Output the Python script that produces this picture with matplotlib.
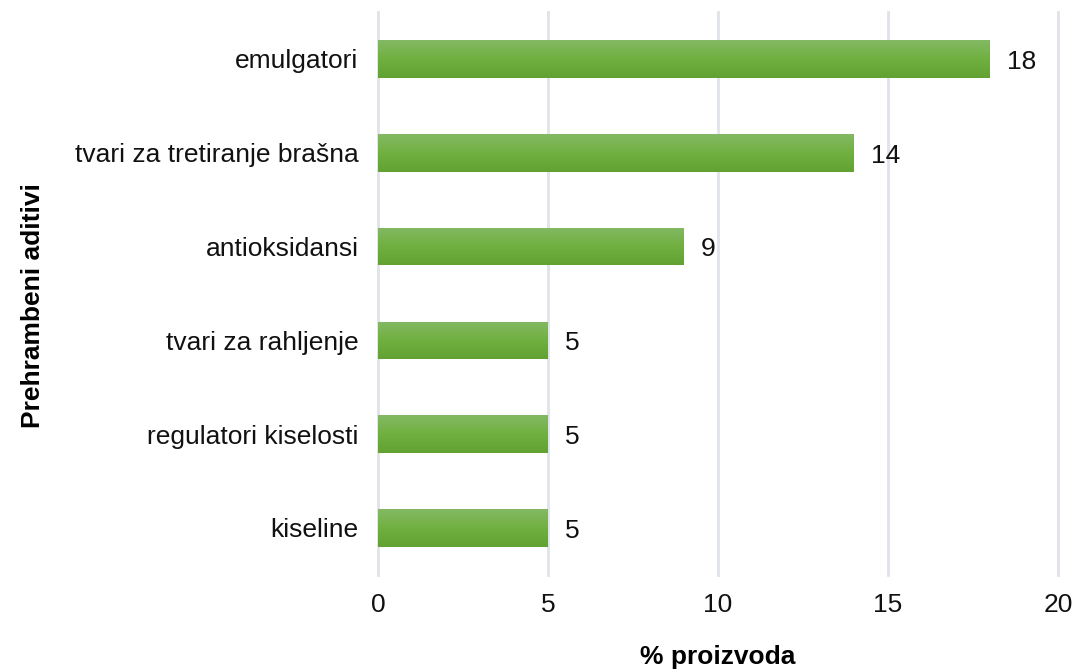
import numpy as np
import matplotlib
matplotlib.use("Agg")
import matplotlib.pyplot as plt
from matplotlib.colors import LinearSegmentedColormap

categories = ["kiseline", "regulatori kiselosti", "tvari za rahljenje",
              "antioksidansi", "tvari za tretiranje brašna", "emulgatori"]
values = [5, 5, 5, 9, 14, 18]
xticks = [0, 5, 10, 15, 20]

plt.rcParams["font.family"] = ["Liberation Sans", "DejaVu Sans"]
FS = 19

fig = plt.figure(figsize=(10.74, 6.70), dpi=100)
ax = fig.add_axes([0.352, 0.142, 0.633, 0.840])

ypos = np.arange(len(categories))
bars = ax.barh(ypos, values, height=0.4, color="#70b040", zorder=2)

# vertical gradient inside each bar
grad = LinearSegmentedColormap.from_list("g", ["#62a233", "#70b040", "#84b964"])
g = np.linspace(0, 1, 64).reshape(-1, 1)
for b in bars:
    x0, y0 = b.get_x(), b.get_y()
    w, h = b.get_width(), b.get_height()
    im = ax.imshow(g, cmap=grad, aspect="auto", origin="lower",
                   extent=[x0, x0 + w, y0, y0 + h], zorder=3)
    im.set_clip_path(b)

for y, v in zip(ypos, values):
    ax.text(v + 0.5, y - 0.03, f"{v}", va="center", ha="left", fontsize=FS, color="#111111")

ax.set_xlim(0, 20)
ax.set_ylim(-0.5, len(categories) - 0.5)
ax.set_xticks(xticks)
ax.set_yticks(ypos)
ax.set_yticklabels(categories)
ax.tick_params(axis="both", length=0, labelsize=FS, colors="#111111")
ax.tick_params(axis="x", pad=13)
ax.tick_params(axis="y", pad=14)
ax.grid(axis="x", color="#dfe3ea", linewidth=2, zorder=0)
for gl in ax.get_xgridlines():
    gl.set_clip_on(False)
ax.set_axisbelow(True)
for s in ax.spines.values():
    s.set_visible(False)

ax.set_xlabel("% proizvoda", fontsize=FS, fontweight="bold", labelpad=20)
ax.set_ylabel("Prehrambeni aditivi", fontsize=FS, fontweight="bold")
ax.yaxis.set_label_coords(-0.49, 0.478)

fig.savefig("out.png", dpi=100)
